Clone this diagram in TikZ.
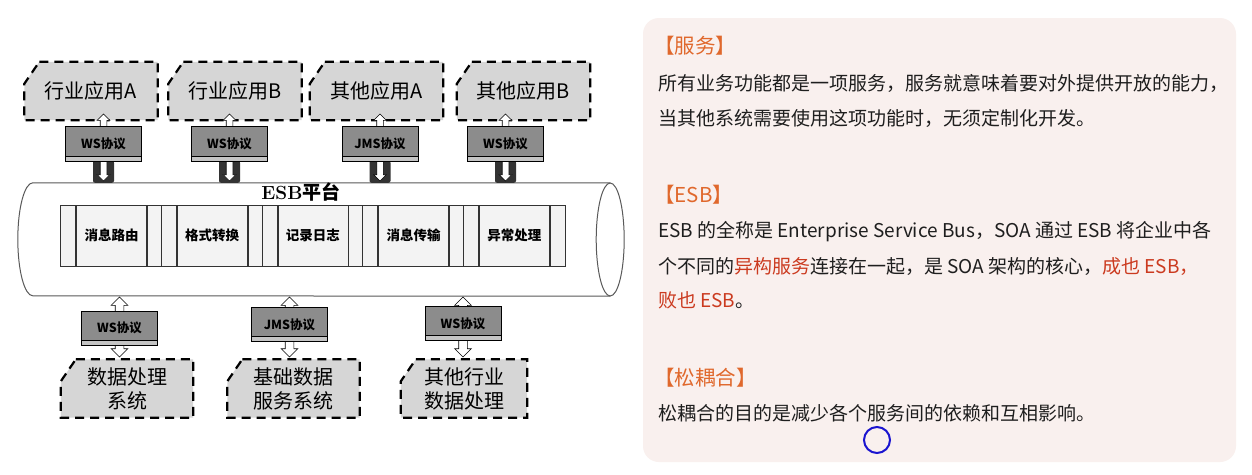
\documentclass[tikz,border=0pt]{standalone}
\usepackage{fontspec}
\newfontfamily\cjk{Noto Sans CJK SC}
\usepackage{tikz}
\usetikzlibrary{calc,shapes.arrows,positioning}
\definecolor{appgray}{HTML}{D6D6D6}
\definecolor{protgray}{HTML}{8C8C8C}
\definecolor{stripgray}{HTML}{C4C4C4}
\definecolor{modfill}{HTML}{F3F3F3}
\definecolor{panel}{HTML}{F9F0EE}
\definecolor{head}{HTML}{E0682C}
\definecolor{hl}{HTML}{CB3A1F}
\definecolor{txt}{HTML}{1E1E1E}
\definecolor{mark}{HTML}{1A14D0}

\begin{document}
\begin{tikzpicture}[x=1pt,y=-1pt,
  appframe/.style={minimum height=58pt, inner sep=0pt},
  appline/.style={draw=black, fill=appgray, line width=2.2pt, dash pattern=on 9pt off 6pt},
  apptext/.style={align=center, inner sep=0pt, font=\cjk\fontsize{20}{24}\selectfont},
  prot/.style={draw=black, fill=protgray, line width=0.8pt, minimum width=76pt,
    minimum height=35pt, inner sep=0pt, font=\cjk\bfseries\fontsize{12.5}{14}\selectfont,
    path picture={\fill[stripgray] (path picture bounding box.south west)
      rectangle ([yshift=5pt]path picture bounding box.south east);
      \draw[line width=0.6pt] ([yshift=5pt]path picture bounding box.south west)
      -- ([yshift=5pt]path picture bounding box.south east);}},
  hollow/.style={double arrow, draw=black, fill=white, line width=0.6pt,
    shape border rotate=90, inner sep=#1, double arrow head extend=#1,
    minimum width=0pt},
  darkblk/.style={fill=black!80, rounded corners=2pt, minimum width=21pt,
    minimum height=22pt, inner sep=0pt, anchor=south},
  modbox/.style={draw=black!80, fill=modfill, line width=0.8pt, minimum height=61pt,
    inner sep=0pt, font=\cjk\bfseries\fontsize{13.5}{15}\selectfont},
  esbline/.style={draw=black!65, line width=1pt},
  paneltext/.style={anchor=west, inner sep=0pt, text=txt,
    font=\cjk\fontsize{19}{23}\selectfont},
  panelhead/.style={anchor=west, inner sep=0pt, text=head,
    font=\cjk\fontsize{20.5}{24}\selectfont}]
\useasboundingbox (0,0) rectangle (1252,474);
\fill[white] (0,0) rectangle (1252,474);

% ESB bus
\node[minimum width=577pt, minimum height=113pt, inner sep=0pt] (esb) at (321.5,239.5) {};
\draw[esbline] (esb.north east) -- (esb.north west)
  arc[start angle=90, end angle=270, x radius=15pt, y radius=56.5pt] -- (esb.south east);
\draw[esbline] (esb.east) ellipse [x radius=14pt, y radius=56.5pt];
\node[font=\bfseries\fontsize{19}{22}\selectfont] (esbname) at (301,192) {ESB{\cjk 平台}};

\foreach \i/\t in {0/消息路由,1/格式转换,2/记录日志,3/消息传输,4/异常处理}{
  \node[modbox, minimum width=70pt] (m\i) at (111.5+100.7*\i,235.5) {\t};
  \node[modbox, minimum width=15pt, anchor=east] (l\i) at (m\i.west) {};
  \node[modbox, minimum width=15pt, anchor=west] (r\i) at (m\i.east) {};
}

% applications
\foreach \n/\cx/\cy/\w/\t in {a1/91/91/133/行业应用A, a2/235/91/133/行业应用B,
    a3/376.5/91/133/其他应用A, a4/523.5/91/133/其他应用B,
    b1/127/388.5/132/数据处理\\系统, b2/293.5/388.5/132/基础数据\\服务系统,
    b3/464/388.5/126/其他行业\\数据处理}{
  \node[appframe, minimum width=\w pt] (\n) at (\cx,\cy) {};
  \draw[appline] ([xshift=15pt]\n.north west) -- (\n.north east) -- (\n.south east)
    -- (\n.south west) -- ([yshift=-22pt]\n.north west) -- cycle;
  \node[apptext] (\n t) at (\n.center) {\t};
}

\foreach \k/\px/\t in {1/103.5/WS协议,2/229.5/WS协议,3/380/JMS协议,4/505.5/WS协议}{
  \node[darkblk] (d\k) at (\px,183) {};
  \node[hollow=3pt, minimum height=67pt] (u\k) at (\px,147.5) {};
  \node[prot] (p\k) at (\px,143.5) {\t};
}
\foreach \k/\px/\py/\t in {1/119.5/328/WS协议,2/289.5/324.5/JMS协议,3/463/323.5/WS协议}{
  \node[hollow=4pt, minimum height=60pt] (v\k) at (\px,327) {};
  \node[prot, minimum height=34pt] (q\k) at (\px,\py) {\t};
}

% notes
\fill[panel, rounded corners=16pt] (643,18) rectangle (1236,462);
\node[panelhead] (hd1) at (654,46) {【服务】};
\node[paneltext] (t11) at (658,83) {所有业务功能都是一项服务，服务就意味着要对外提供开放的能力，};
\node[paneltext] (t12) at (658,118) {当其他系统需要使用这项功能时，无须定制化开发。};
\node[panelhead] (hd2) at (654,195) {【ESB】};
\node[paneltext] (t21) at (658,232) {ESB 的全称是 Enterprise Service Bus，SOA 通过 ESB 将企业中各};
\node[paneltext] (t22) at (658,266) {个不同的\textcolor{hl}{异构服务}连接在一起，是 SOA 架构的核心，\textcolor{hl}{成也 ESB，}};
\node[paneltext] (t23) at (658,300) {\textcolor{hl}{败也 ESB}。};
\node[panelhead] (hd3) at (654,378) {【松耦合】};
\node[paneltext] (t31) at (658,413) {松耦合的目的是减少各个服务间的依赖和互相影响。};
\node[circle, draw=mark, line width=2pt, minimum size=26pt, inner sep=0pt] (cursor) at (877,440) {};
\end{tikzpicture}
\end{document}
